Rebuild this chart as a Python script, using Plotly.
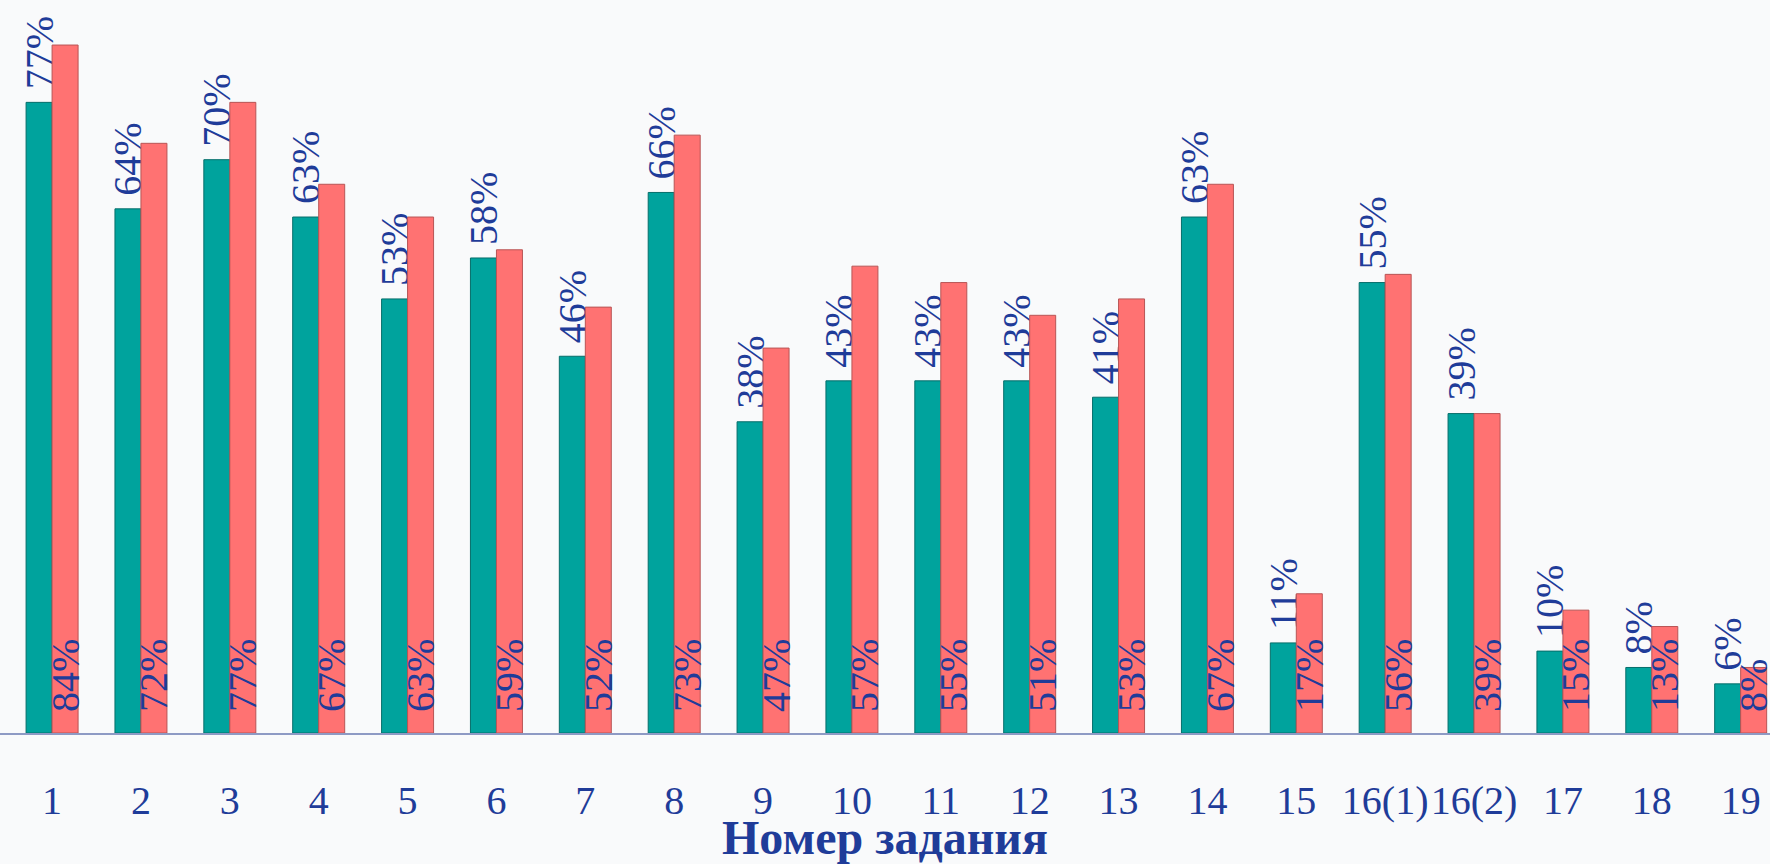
import plotly.graph_objects as go

categories = ['1', '2', '3', '4', '5', '6', '7', '8', '9', '10', '11', '12', '13', '14',
              '15', '16(1)', '16(2)', '17', '18', '19']
series_a = [77, 64, 70, 63, 53, 58, 46, 66, 38, 43, 43, 43, 41, 63, 11, 55, 39, 10, 8, 6]
series_b = [84, 72, 77, 67, 63, 59, 52, 73, 47, 57, 55, 51, 53, 67, 17, 56, 39, 15, 13, 8]
x_title = 'Номер задания'

TEXT_COLOR = '#1F3C99'
FONT = 'Liberation Serif, Times New Roman, serif'

fig = go.Figure()
fig.add_trace(go.Bar(
    x=categories, y=series_a, name='A',
    marker=dict(color='#00A39D', line=dict(color='#066E6A', width=1)),
    text=[f'\u00a0{v}%' for v in series_a], textposition='outside', textangle=-90,
    constraintext='none', cliponaxis=False,
    textfont=dict(family=FONT, size=40, color=TEXT_COLOR),
))
fig.add_trace(go.Bar(
    x=categories, y=series_b, name='B',
    marker=dict(color='#FF7272', line=dict(color='#B85555', width=1)),
    text=[f'\u00a0\u2009{v}%' for v in series_b], textposition='inside', insidetextanchor='start',
    textangle=-90, constraintext='none', cliponaxis=False,
    textfont=dict(family=FONT, size=40, color=TEXT_COLOR),
))

fig.update_layout(
    width=1770, height=864,
    margin=dict(l=0, r=0, t=0, b=131),
    paper_bgcolor='#F9FAFB', plot_bgcolor='#F9FAFB',
    barmode='group', bargap=0.415, bargroupgap=0,
    showlegend=False,
    uniformtext=dict(minsize=40, mode='show'),
    font=dict(family=FONT, color=TEXT_COLOR),
)
fig.update_xaxes(
    type='category', range=[-0.586, 19.33],
    showline=True, linecolor='#8E9AC4', linewidth=1.5,
    showgrid=False, zeroline=False,
    ticks='outside', ticklen=31, tickcolor='rgba(0,0,0,0)',
    tickfont=dict(family=FONT, size=40, color=TEXT_COLOR),
    title=dict(text=f'<b>{x_title}</b>', font=dict(family=FONT, size=48, color=TEXT_COLOR), standoff=6),
)
fig.update_yaxes(range=[0, 89.5], visible=False, showgrid=False, zeroline=False)

fig.write_html('out.html', config={'displayModeBar': False},
               post_script="document.body.style.margin='0';document.body.style.overflow='hidden';")
